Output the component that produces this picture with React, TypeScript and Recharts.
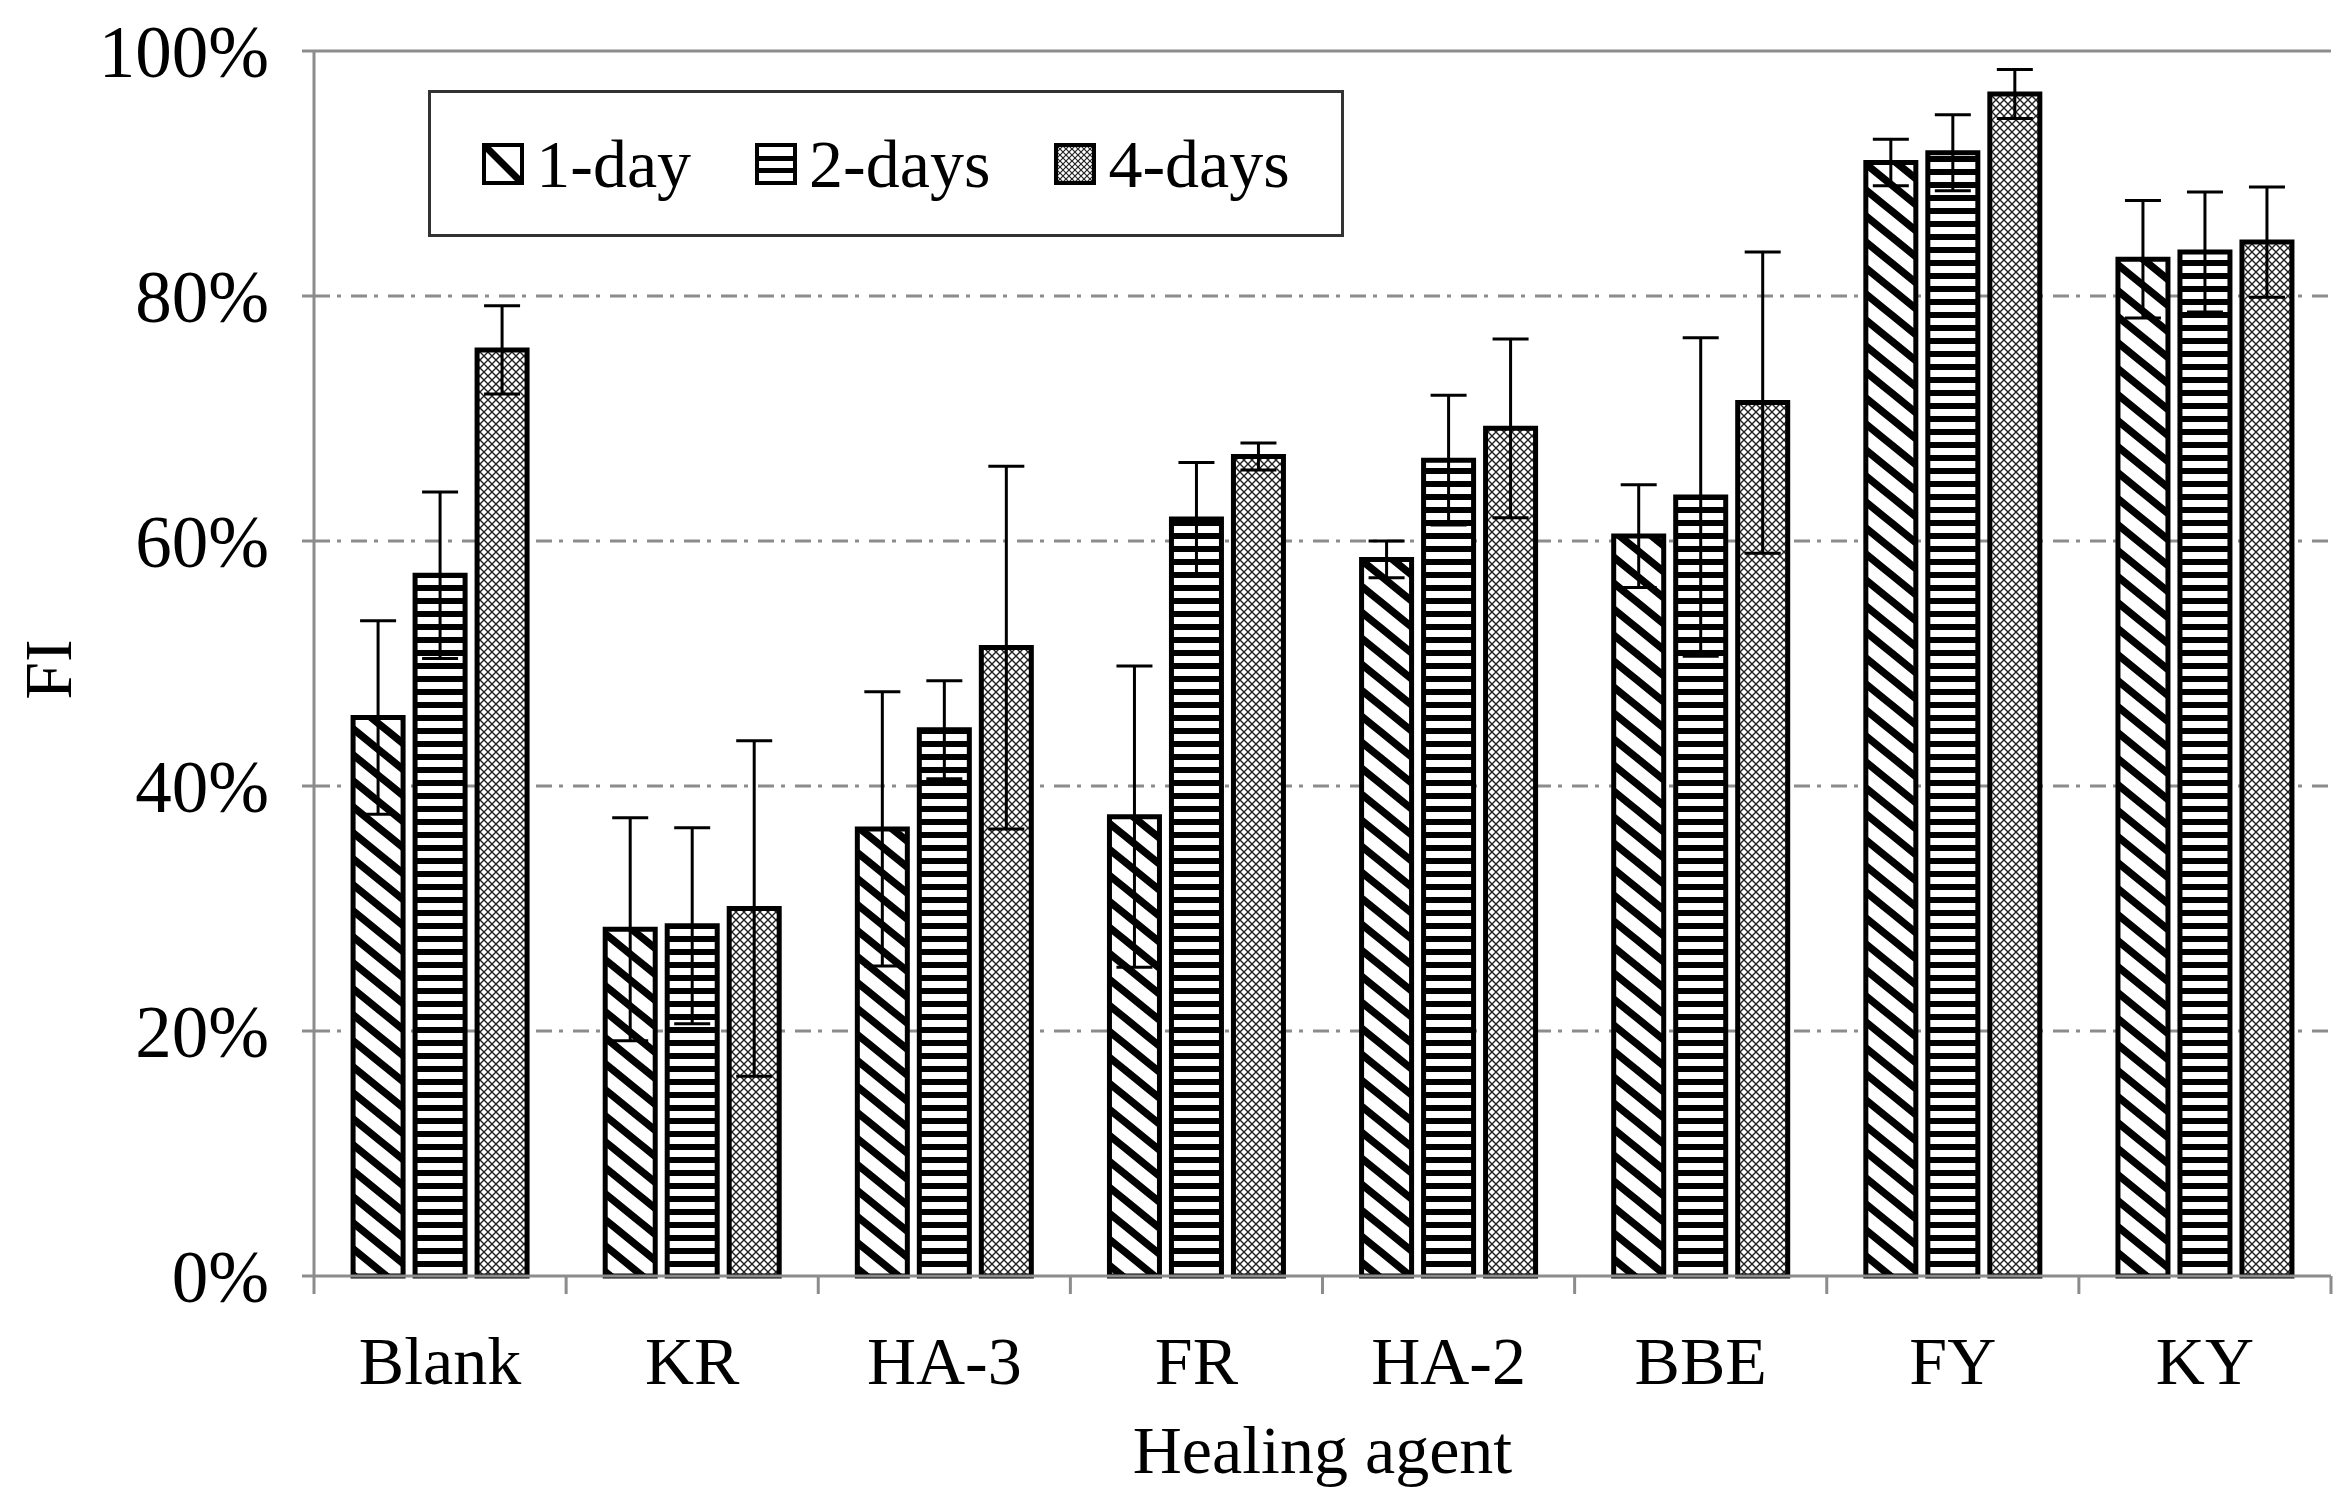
import React from 'react';
import { BarChart, Bar, XAxis, YAxis, CartesianGrid, ErrorBar, Legend, ReferenceLine } from 'recharts';

const categories = ['Blank', 'KR', 'HA-3', 'FR', 'HA-2', 'BBE', 'FY', 'KY'];
const seriesNames = ['1-day', '2-days', '4-days'];

const day1 = [45.6, 28.3, 36.5, 37.5, 58.5, 60.4, 90.9, 83.0];
const day1Err = [7.9, 9.1, 11.2, 12.3, 1.5, 4.2, 1.9, 4.8];
const day2 = [57.2, 28.6, 44.6, 61.8, 66.6, 63.6, 91.7, 83.6];
const day2Err = [6.8, 8.0, 4.0, 4.6, 5.3, 13.0, 3.1, 4.9];
const day4 = [75.6, 30.0, 51.3, 66.9, 69.2, 71.3, 96.5, 84.4];
const day4Err = [3.6, 13.7, 14.8, 1.1, 7.3, 12.3, 2.0, 4.5];

const yTicks = [0, 20, 40, 60, 80, 100];

const data = categories.map((name, i) => ({
  name,
  d1: day1[i],
  e1: day1Err[i],
  d2: day2[i],
  e2: day2Err[i],
  d4: day4[i],
  e4: day4Err[i],
}));

const W = 2343;
const H = 1487;
const MARGIN = { top: 51, right: 12, bottom: 0, left: 0 };
const Y_AXIS_W = 314;
const X_AXIS_H = 211;
const BAND = (W - MARGIN.left - MARGIN.right - Y_AXIS_W) / categories.length;
const FONT = '"Liberation Serif", "Times New Roman", serif';
const GRAY = '#8c8c8c';
const FS = 68;

// x labels plus Excel-style tick marks between categories
const CategoryTick = (props: any) => {
  const { x, y, payload, index } = props;
  const half = BAND / 2;
  return (
    <g>
      <line x1={x - half} y1={y} x2={x - half} y2={y + 18} stroke={GRAY} strokeWidth={3} />
      {index === categories.length - 1 && (
        <line x1={x + half} y1={y} x2={x + half} y2={y + 18} stroke={GRAY} strokeWidth={3} />
      )}
      <text x={x} y={y + 108} textAnchor="middle" fontFamily={FONT} fontSize={FS} fill="#000">
        {payload.value}
      </text>
    </g>
  );
};

const Swatch = ({ kind }: { kind: number }) => (
  <svg width={42} height={42} style={{ display: 'block' }}>
    <rect x={2} y={2} width={38} height={38} fill="#fff" />
    {kind === 0 && <line x1={4} y1={4} x2={38} y2={38} stroke="#000" strokeWidth={7} />}
    {kind === 1 && (
      <g>
        <rect x={4} y={13} width={34} height={5} fill="#000" />
        <rect x={4} y={25} width={34} height={5} fill="#000" />
      </g>
    )}
    {kind === 2 && <rect x={4} y={4} width={34} height={34} fill="url(#legendCross)" />}
    <rect x={2} y={2} width={38} height={38} fill="none" stroke="#000" strokeWidth={4} />
  </svg>
);

const renderLegend = () => (
  <div
    style={{
      boxSizing: 'border-box',
      width: 916,
      height: 147,
      border: '3px solid #333',
      background: '#fff',
      display: 'flex',
      alignItems: 'center',
      justifyContent: 'center',
      fontFamily: FONT,
      fontSize: FS,
      color: '#000',
    }}
  >
    {seriesNames.map((n, i) => (
      <div key={n} style={{ display: 'flex', alignItems: 'center', marginLeft: i ? 64 : 0 }}>
        <Swatch kind={i} />
        <span style={{ marginLeft: 12, lineHeight: 1 }}>{n}</span>
      </div>
    ))}
  </div>
);

const YLabel = (props: any) => {
  const { viewBox } = props;
  const cx = viewBox.x + 48;
  const cy = viewBox.y + viewBox.height / 2 + 6;
  return (
    <text
      x={cx}
      y={cy}
      transform={`rotate(-90, ${cx}, ${cy})`}
      textAnchor="middle"
      dominantBaseline="central"
      fontFamily={FONT}
      fontSize={FS}
      fill="#000"
    >
      FI
    </text>
  );
};

export default function App() {
  return (
    <div style={{ position: 'absolute', left: 0, top: 0, width: W, height: H, background: '#fff' }}>
      <BarChart
        width={W}
        height={H}
        data={data}
        margin={MARGIN}
        barCategoryGap="15.5%"
        barGap={12}
      >
        <defs>
          <pattern id="hatch1" patternUnits="userSpaceOnUse" width={32} height={26}>
            <rect width={32} height={26} fill="#fff" />
            <path
              d="M-5,-30.06 L37,4.06 M-5,-4.06 L37,30.06 M-5,21.94 L37,56.06"
              stroke="#000"
              strokeWidth={7.5}
            />
          </pattern>
          <pattern id="hatch2" patternUnits="userSpaceOnUse" width={10} height={13}>
            <rect width={10} height={13} fill="#fff" />
            <rect y={0} width={10} height={6} fill="#000" />
          </pattern>
          <pattern id="hatch4" patternUnits="userSpaceOnUse" width={8} height={8}>
            <rect width={8} height={8} fill="#fff" />
            <path d="M-1,-1 L9,9 M9,-1 L-1,9" stroke="#222" strokeWidth={1.4} />
          </pattern>
          <pattern id="legendCross" patternUnits="userSpaceOnUse" width={6} height={6}>
            <rect width={6} height={6} fill="#fff" />
            <path d="M-1,-1 L7,7 M7,-1 L-1,7" stroke="#222" strokeWidth={1.2} />
          </pattern>
        </defs>
        <CartesianGrid
          vertical={false}
          horizontalValues={[20, 40, 60, 80]}
          stroke={GRAY}
          strokeWidth={3}
          strokeDasharray="16 7 4 10"
        />
        <XAxis
          dataKey="name"
          height={X_AXIS_H}
          tickLine={false}
          tickSize={0}
          tickMargin={0}
          axisLine={{ stroke: GRAY, strokeWidth: 3 }}
          tick={<CategoryTick />}
          interval={0}
          label={{
            value: 'Healing agent',
            position: 'insideBottom',
            offset: 14,
            fontFamily: FONT,
            fontSize: FS,
            fill: '#000',
          }}
        />
        <YAxis
          width={Y_AXIS_W}
          domain={[0, 100]}
          ticks={yTicks}
          tickFormatter={(v: number) => `${v}%`}
          tickSize={12}
          tickMargin={33}
          tickLine={{ stroke: GRAY, strokeWidth: 3 }}
          axisLine={{ stroke: GRAY, strokeWidth: 3 }}
          tick={{ fontFamily: FONT, fontSize: 73, fill: '#000' }}
          label={<YLabel />}
        />
        <YAxis
          yAxisId="right"
          orientation="right"
          width={0}
          domain={[0, 100]}
          tick={false}
          tickLine={false}
          axisLine={{ stroke: GRAY, strokeWidth: 3 }}
        />
        <ReferenceLine y={100} stroke={GRAY} strokeWidth={3} />
        <Legend
          content={renderLegend}
          layout="horizontal"
          verticalAlign="middle"
          align="center"
          wrapperStyle={{ left: 428, top: 90, width: 916, height: 147 }}
        />
        <Bar dataKey="d1" name="1-day" fill="url(#hatch1)" stroke="#000" strokeWidth={5} isAnimationActive={false}>
          <ErrorBar dataKey="e1" width={18} strokeWidth={3} stroke="#000" direction="y" />
        </Bar>
        <Bar dataKey="d2" name="2-days" fill="url(#hatch2)" stroke="#000" strokeWidth={5} isAnimationActive={false}>
          <ErrorBar dataKey="e2" width={18} strokeWidth={3} stroke="#000" direction="y" />
        </Bar>
        <Bar dataKey="d4" name="4-days" fill="url(#hatch4)" stroke="#000" strokeWidth={5} isAnimationActive={false}>
          <ErrorBar dataKey="e4" width={18} strokeWidth={3} stroke="#000" direction="y" />
        </Bar>
      </BarChart>
    </div>
  );
}
